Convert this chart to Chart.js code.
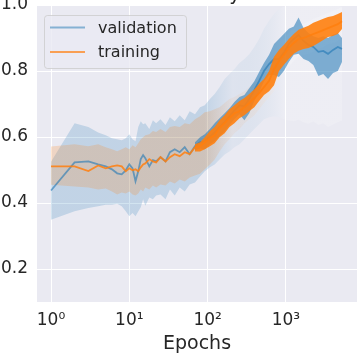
<!DOCTYPE html>
<html>
<head>
<meta charset="utf-8">
<script src="https://cdn.jsdelivr.net/npm/chart.js@4.4.1/dist/chart.umd.min.js"></script>
<style>
  html, body { margin: 0; padding: 0; background: #fff; overflow: hidden; width: 362px; height: 359px; }
  #wrap { position: relative; width: 362px; height: 359px; overflow: hidden; }
  #chart { position: absolute; left: 0; top: -30px; }
</style>
</head>
<body>
<div id="wrap"><canvas id="chart" width="362" height="389"></canvas></div>
<script>
// epochs (log x axis)
const epochs = [1,2,3,4,5,6,7,8,9,10,11,12,13,14,15,16,18,20,22,25,29,33,38,44,51,59,
  69,80,92,107,123,142,165,190,220,255,295,340,395,455,525,610,705,815,940,1090,1260,1450,
  1680,1940,2240,2600,3000,3450,4000,4600,5200];

const xTicks = [1, 10, 100, 1000];
const xTickLabels = ["10⁰", "10¹", "10²", "10³"];
const yTicks = [0.2, 0.4, 0.6, 0.8, 1.0];

// validation accuracy (mean line + confidence band)
const valMean = [0.438,0.523,0.526,0.517,0.511,0.502,0.490,0.487,0.499,0.517,0.505,0.466,0.496,0.533,0.545,0.536,0.511,0.530,0.526,0.539,0.526,0.554,0.563,0.554,0.569,0.548,
  0.572,0.584,0.587,0.602,0.614,0.630,0.645,0.663,0.681,0.696,0.693,0.715,0.742,0.770,0.800,0.821,0.836,0.836,0.855,0.882,0.897,0.909,
  0.891,0.879,0.873,0.858,0.861,0.852,0.864,0.873,0.867];
const valUpper = [0.525,0.642,0.630,0.614,0.605,0.596,0.593,0.590,0.596,0.608,0.593,0.587,0.630,0.648,0.639,0.642,0.624,0.651,0.642,0.654,0.636,0.660,0.648,0.666,0.651,0.678,
  0.669,0.690,0.696,0.715,0.730,0.751,0.776,0.791,0.806,0.824,0.836,0.851,0.873,0.897,0.928,0.952,0.973,0.988,0.995,0.997,0.998,0.999,
  0.998,0.997,0.998,0.999,0.997,0.998,0.999,0.998,0.995];
const valLower = [0.349,0.375,0.385,0.390,0.395,0.395,0.398,0.390,0.375,0.360,0.370,0.360,0.374,0.387,0.411,0.392,0.417,0.411,0.423,0.426,0.411,0.441,0.423,0.447,0.435,0.456,
  0.462,0.480,0.496,0.508,0.517,0.532,0.547,0.556,0.569,0.578,0.593,0.608,0.624,0.639,0.654,0.660,0.663,0.660,0.654,0.650,0.648,0.652,
  0.645,0.640,0.648,0.636,0.642,0.630,0.638,0.645,0.650];
// spread of the noisy validation curve from epoch 69 on
const valNoiseHi = [0.584,0.599,0.608,0.624,0.642,0.657,0.672,0.687,0.706,0.721,0.727,0.748,0.769,0.797,0.824,0.849,0.882,0.897,0.912,0.928,
  0.935,0.962,0.930,0.915,0.905,0.900,0.905,0.900,0.910,0.915,0.900];
const valNoiseLo = [0.560,0.565,0.563,0.578,0.587,0.602,0.617,0.636,0.654,0.669,0.651,0.672,0.709,0.736,0.769,0.788,0.788,0.782,0.800,0.827,
  0.849,0.852,0.836,0.830,0.818,0.785,0.791,0.776,0.794,0.800,0.827];

// training accuracy
const trainMean = [0.511,0.511,0.497,0.514,0.505,0.511,0.514,0.511,0.496,0.505,0.499,0.502,0.496,0.508,0.517,0.520,0.533,0.526,0.523,0.539,0.526,0.539,0.548,0.542,0.554,0.548,
  0.569,0.572,0.584,0.596,0.605,0.627,0.642,0.657,0.672,0.678,0.690,0.703,0.718,0.733,0.751,0.770,0.806,0.830,0.849,0.870,0.885,0.897,
  0.900,0.906,0.912,0.918,0.924,0.930,0.936,0.942,0.951];
const trainUpper = [0.571,0.578,0.572,0.578,0.569,0.563,0.557,0.563,0.569,0.563,0.575,0.569,0.581,0.593,0.599,0.605,0.608,0.618,0.615,0.624,0.615,0.630,0.633,0.630,0.642,0.639,
  0.654,0.663,0.675,0.678,0.684,0.690,0.703,0.715,0.721,0.730,0.739,0.751,0.763,0.782,0.800,0.824,0.861,0.882,0.897,0.915,0.928,0.937,
  0.943,0.949,0.958,0.964,0.970,0.976,0.982,0.988,0.994];
const trainLower = [0.455,0.450,0.447,0.441,0.444,0.435,0.426,0.432,0.429,0.435,0.426,0.423,0.429,0.441,0.435,0.447,0.441,0.453,0.447,0.456,0.453,0.465,0.459,0.471,0.465,0.477,
  0.483,0.489,0.502,0.517,0.532,0.556,0.578,0.593,0.611,0.624,0.642,0.654,0.666,0.684,0.703,0.721,0.739,0.775,0.794,0.812,0.830,0.843,
  0.849,0.852,0.858,0.867,0.873,0.882,0.885,0.891,0.903];
const trainNoiseHi = [0.578,0.584,0.599,0.618,0.630,0.651,0.666,0.684,0.696,0.709,0.718,0.730,0.745,0.761,0.776,0.800,0.843,0.864,0.879,0.897,
  0.912,0.925,0.931,0.937,0.946,0.952,0.958,0.964,0.967,0.973,0.979];
const trainNoiseLo = [0.556,0.556,0.563,0.572,0.581,0.599,0.611,0.630,0.642,0.657,0.666,0.678,0.690,0.709,0.727,0.739,0.757,0.800,0.818,0.836,
  0.852,0.861,0.867,0.870,0.876,0.885,0.894,0.903,0.906,0.912,0.927];

const noiseEpochs = epochs.slice(epochs.length - valNoiseHi.length);

const BLUE = "31,119,180";
const ORANGE = "255,127,14";
const TEXT = "#262626";
const FONT = "'DejaVu Sans', sans-serif";

function pts(xs, ys) {
  return xs.map((x, i) => ({ x: x, y: ys[i] }));
}

// bands fade out to a faint haze at high epochs
function bandFill(rgb, a) {
  return (ctx) => {
    const chart = ctx.chart;
    const xs = chart.scales.x;
    if (!chart.chartArea || !xs) return `rgba(${rgb},${a})`;
    const g = chart.ctx.createLinearGradient(xs.getPixelForValue(90), 0, xs.getPixelForValue(1000), 0);
    g.addColorStop(0, `rgba(${rgb},${a})`);
    g.addColorStop(0.35, `rgba(${rgb},0.06)`);
    g.addColorStop(1, "rgba(255,255,255,0.18)");
    return g;
  };
}

function band(data, fill, color, order) {
  return {
    data: data,
    fill: fill,
    backgroundColor: color,
    borderColor: "transparent",
    borderWidth: 0,
    pointRadius: 0,
    order: order
  };
}

const bgPlugin = {
  id: "bg",
  beforeDraw(chart) {
    const a = chart.chartArea;
    const c = chart.ctx;
    c.save();
    c.fillStyle = "#eaeaf2";
    c.fillRect(a.left, a.top, a.right - a.left, a.bottom - a.top);
    c.restore();
  }
};

const titleLegendPlugin = {
  id: "titleLegend",
  afterDatasetsDraw(chart) {
    const a = chart.chartArea;
    const c = chart.ctx;
    c.save();
    // title (mostly cut off above the picture)
    c.fillStyle = TEXT;
    c.font = "19px " + FONT;
    c.textAlign = "center";
    c.textBaseline = "alphabetic";
    c.fillText("Accuracy", (a.left + a.right) / 2, a.top - 5.5);

    // legend box
    const bx = a.left + 7, by = a.top + 10, bw = 142, bh = 53;
    c.beginPath();
    c.roundRect(bx + 0.5, by + 0.5, bw, bh, 3);
    c.fillStyle = "rgba(234,234,242,0.8)";
    c.fill();
    c.strokeStyle = "rgba(204,204,204,0.8)";
    c.lineWidth = 1;
    c.stroke();

    const items = [
      { label: "validation", color: `rgba(${BLUE},0.5)`, y: by + 12.5 },
      { label: "training", color: `rgba(${ORANGE},0.7)`, y: by + 37 }
    ];
    c.font = "16px " + FONT;
    c.textAlign = "left";
    c.textBaseline = "middle";
    items.forEach(it => {
      c.beginPath();
      c.moveTo(bx + 6, it.y);
      c.lineTo(bx + 41, it.y);
      c.strokeStyle = it.color;
      c.lineWidth = 2.2;
      c.stroke();
      c.fillStyle = TEXT;
      c.fillText(it.label, bx + 54, it.y + 1);
    });
    c.restore();
  }
};

new Chart(document.getElementById("chart"), {
  type: "line",
  data: {
    datasets: [
      band(pts(epochs, valUpper), 1, bandFill(BLUE, 0.2), 5),
      band(pts(epochs, valLower), false, "transparent", 5),
      band(pts(epochs, trainUpper), 3, bandFill(ORANGE, 0.2), 4),
      band(pts(epochs, trainLower), false, "transparent", 4),
      band(pts(noiseEpochs, valNoiseHi), 5, `rgba(${BLUE},0.55)`, 3),
      band(pts(noiseEpochs, valNoiseLo), false, "transparent", 3),
      {
        label: "validation",
        data: pts(epochs, valMean),
        borderColor: `rgba(${BLUE},0.6)`,
        borderWidth: 1.8,
        pointRadius: 0,
        fill: false,
        order: 2
      },
      band(pts(noiseEpochs, trainNoiseHi), 8, `rgba(${ORANGE},0.9)`, 1),
      band(pts(noiseEpochs, trainNoiseLo), false, "transparent", 1),
      {
        label: "training",
        data: pts(epochs, trainMean),
        borderColor: `rgba(${ORANGE},0.85)`,
        borderWidth: 1.8,
        pointRadius: 0,
        fill: false,
        order: 0
      }
    ]
  },
  options: {
    responsive: false,
    animation: false,
    devicePixelRatio: 1,
    layout: { padding: { top: 35, right: 5, left: 0, bottom: 0 } },
    plugins: {
      legend: { display: false },
      tooltip: { enabled: false }
    },
    scales: {
      x: {
        type: "logarithmic",
        min: 0.662,
        max: 8090,
        afterBuildTicks: (scale) => { scale.ticks = xTicks.map(v => ({ value: v })); },
        afterFit: (scale) => { scale.height = 57; },
        ticks: {
          color: TEXT,
          font: { family: FONT, size: 17 },
          padding: 8,
          maxRotation: 0,
          autoSkip: false,
          callback: (v) => xTickLabels[xTicks.indexOf(v)]
        },
        grid: { color: "#ffffff", lineWidth: 1, drawTicks: false },
        border: { display: false },
        title: {
          display: true,
          text: "Epochs",
          color: TEXT,
          font: { family: FONT, size: 19 },
          padding: { top: 0, bottom: 4 }
        }
      },
      y: {
        min: 0.1,
        max: 1.0,
        afterBuildTicks: (scale) => { scale.ticks = yTicks.map(v => ({ value: v })); },
        afterFit: (scale) => { scale.width = 37; },
        ticks: {
          color: TEXT,
          font: { family: FONT, size: 17 },
          padding: 9,
          callback: (v) => v.toFixed(1)
        },
        grid: { color: "#ffffff", lineWidth: 1, drawTicks: false },
        border: { display: false }
      }
    }
  },
  plugins: [bgPlugin, titleLegendPlugin]
});
</script>
</body>
</html>
